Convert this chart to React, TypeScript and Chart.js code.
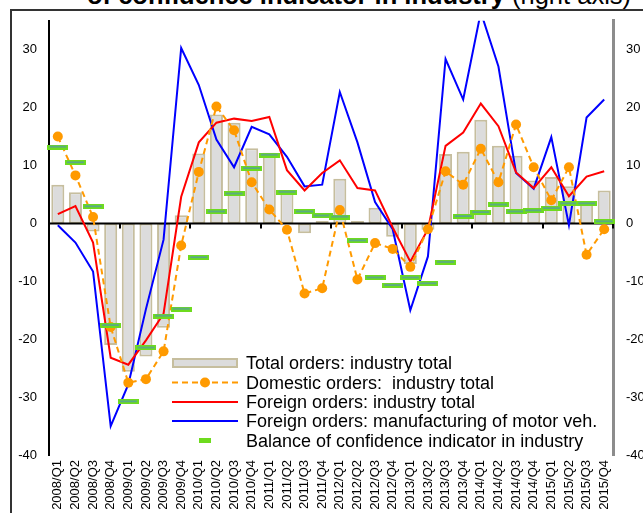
import React, { useEffect, useRef } from "react";
import { Chart, registerables } from "chart.js";

Chart.register(...registerables);

const categories = [
  "2008/Q1", "2008/Q2", "2008/Q3", "2008/Q4",
  "2009/Q1", "2009/Q2", "2009/Q3", "2009/Q4",
  "2010/Q1", "2010/Q2", "2010/Q3", "2010/Q4",
  "2011/Q1", "2011/Q2", "2011/Q3", "2011/Q4",
  "2012/Q1", "2012/Q2", "2012/Q3", "2012/Q4",
  "2013/Q1", "2013/Q2", "2013/Q3", "2013/Q4",
  "2014/Q1", "2014/Q2", "2014/Q3", "2014/Q4",
  "2015/Q1", "2015/Q2", "2015/Q3", "2015/Q4",
];

const totalOrders = [
  6.7, 5.4, -1.4, -21.0, -25.6, -23.0, -18.0, 1.4,
  12.1, 18.8, 17.4, 13.0, 12.2, 5.3, -1.7, 0.4,
  7.7, 0.4, 2.7, -2.3, -7.0, -1.1, 12.0, 12.4,
  17.9, 13.4, 11.7, 7.4, 8.0, 6.4, 3.5, 5.7,
];

const domesticOrders = [
  15.0, 8.3, 1.1, -17.9, -27.5, -26.9, -22.1, -3.8,
  8.9, 20.2, 16.1, 7.1, 2.4, -1.1, -12.1, -11.2,
  2.3, -9.7, -3.4, -4.4, -7.5, -1.0, 9.0, 6.7,
  12.9, 7.1, 17.1, 9.7, 4.0, 9.7, -5.4, -1.0,
];

const foreignOrders = [
  1.6, 3.0, -3.3, -23.2, -24.4, -20.2, -15.6, 4.6,
  14.0, 17.4, 18.1, 17.7, 18.4, 9.2, 5.7, 8.7,
  10.9, 6.1, 5.7, -0.7, -6.6, -1.0, 13.4, 15.7,
  20.7, 16.8, 8.8, 6.1, 9.7, 4.7, 8.1, 9.0,
];

const foreignMotor = [
  -0.3, -3.3, -8.3, -35.0, -27.8, -14.8, -2.8, 30.3,
  23.9, 14.5, 9.7, 16.7, 15.4, 11.5, 6.4, 6.7,
  22.7, 14.0, 3.7, -1.0, -15.0, -5.7, 28.4, 21.4,
  36.5, 27.1, 8.7, 6.0, 14.9, -0.3, 18.3, 21.4,
];

const confidenceBalance = [
  13.2, 10.5, 2.9, -17.6, -30.8, -21.5, -16.0, -14.8,
  -5.9, 2.0, 5.1, 9.5, 11.8, 5.4, 2.0, 1.3,
  1.1, -3.0, -9.4, -10.7, -9.4, -10.4, -6.7, 1.2,
  1.9, 3.2, 2.0, 2.2, 2.6, 3.4, 3.4, 0.3,
];

const yTickValues = [-40, -30, -20, -10, 0, 10, 20, 30];
const yMin = -40;
const yMax = 35;
const quartersPerYear = 4;

const seriesLabels = [
  "Total orders: industry total",
  "Domestic orders:  industry total",
  "Foreign orders: industry total",
  "Foreign orders: manufacturing of motor veh.",
  "Balance of confidence indicator in industry",
];

const FONT = "'Liberation Sans', Arial, Helvetica, sans-serif";
const GREEN = "#6EDB1E";
const GREEN_LINE = "#4F8FC0";
const ORANGE = "#FF9A00";
const BAR_FILL = "#DCDCDC";
const BAR_BORDER = "#C6BE9E";

function makeMarker(w: number, h: number) {
  const c = document.createElement("canvas");
  c.width = w;
  c.height = h;
  const g = c.getContext("2d")!;
  g.fillStyle = GREEN;
  g.fillRect(0, 0, w, h);
  g.fillStyle = GREEN_LINE;
  g.fillRect(2, Math.floor(h / 2) - 0.5, w - 4, 1.2);
  return c;
}

const axisPlugin = {
  id: "zeroAxis",
  afterDatasetDraw(chart: any, args: any) {
    if (args.index !== 0) return;
    const { ctx, chartArea } = chart;
    const xs = chart.scales.x;
    const ys = chart.scales.y;
    const y0 = ys.getPixelForValue(0);
    ctx.save();
    ctx.strokeStyle = "#000";
    ctx.lineWidth = 2;
    ctx.beginPath();
    ctx.moveTo(chartArea.left, y0);
    ctx.lineTo(chartArea.right, y0);
    ctx.stroke();
    const n = categories.length;
    const step = (xs.right - xs.left) / n;
    for (let k = quartersPerYear; k <= n; k += quartersPerYear) {
      const x = Math.round(xs.left + k * step);
      ctx.beginPath();
      ctx.moveTo(x, y0);
      ctx.lineTo(x, y0 + 5);
      ctx.stroke();
    }
    ctx.restore();
  },
};

function ChartCanvas() {
  const ref = useRef<HTMLCanvasElement | null>(null);
  useEffect(() => {
    if (!ref.current) return;
    const marker = makeMarker(21, 5);
    const tickFont = { family: FONT, size: 13 };
    const chart = new Chart(ref.current, {
      data: {
        labels: categories,
        datasets: [
          {
            type: "bar",
            label: seriesLabels[0],
            data: totalOrders,
            backgroundColor: BAR_FILL,
            borderColor: BAR_BORDER,
            borderWidth: 2,
            borderSkipped: false,
            barPercentage: 0.74,
            categoryPercentage: 1,
            yAxisID: "y",
            order: 5,
          },
          {
            type: "line",
            label: seriesLabels[1],
            data: domesticOrders,
            borderColor: ORANGE,
            borderWidth: 2,
            borderDash: [6, 4],
            pointRadius: 5,
            pointBackgroundColor: ORANGE,
            pointBorderColor: ORANGE,
            pointBorderWidth: 0,
            tension: 0,
            yAxisID: "y",
            order: 2,
          },
          {
            type: "line",
            label: seriesLabels[2],
            data: foreignOrders,
            borderColor: "#FF0000",
            borderWidth: 2,
            pointRadius: 0,
            tension: 0,
            yAxisID: "y",
            order: 3,
          },
          {
            type: "line",
            label: seriesLabels[3],
            data: foreignMotor,
            borderColor: "#0000FF",
            borderWidth: 2,
            pointRadius: 0,
            tension: 0,
            yAxisID: "y",
            order: 4,
          },
          {
            type: "line",
            label: seriesLabels[4],
            data: confidenceBalance,
            showLine: false,
            pointStyle: marker,
            pointRadius: 3,
            yAxisID: "y1",
            order: 1,
          },
        ],
      } as any,
      options: {
        animation: false,
        responsive: false,
        maintainAspectRatio: false,
        layout: { padding: { top: 15, left: 0, right: 0, bottom: 0 } },
        plugins: {
          legend: { display: false },
          tooltip: { enabled: false },
          title: { display: false },
        },
        scales: {
          x: {
            grid: { display: false, drawTicks: false },
            border: { display: false },
            ticks: {
              autoSkip: false,
              maxRotation: 90,
              minRotation: 90,
              padding: 5,
              color: "#000",
              font: tickFont,
            },
            afterFit: (s: any) => {
              s.height = 58;
            },
          },
          y: {
            position: "left",
            min: yMin,
            max: yMax,
            grid: { display: false, drawTicks: false },
            border: { display: true, color: "#000", width: 2 },
            ticks: { padding: 12, color: "#000", font: tickFont },
            afterBuildTicks: (s: any) => {
              s.ticks = yTickValues.map((v) => ({ value: v }));
            },
            afterFit: (s: any) => {
              s.width = 49;
            },
          },
          y1: {
            position: "right",
            min: yMin,
            max: yMax,
            grid: { display: false, drawTicks: false },
            border: { display: true, color: "#8C8C8C", width: 3 },
            ticks: { padding: 13, color: "#000", font: tickFont },
            afterBuildTicks: (s: any) => {
              s.ticks = yTickValues.map((v) => ({ value: v }));
            },
            afterFit: (s: any) => {
              s.width = 30;
            },
          },
        },
      } as any,
      plugins: [axisPlugin],
    });
    return () => chart.destroy();
  }, []);
  return (
    <canvas
      ref={ref}
      width={643}
      height={513}
      style={{ position: "absolute", left: 0, top: 0, width: 643, height: 513, display: "block" }}
    />
  );
}

function Legend() {
  const rowY = [363, 382.5, 402, 421, 440.5];
  const x0 = 172;
  const x1 = 238;
  const cx = 205;
  return (
    <>
      <svg
        width={643}
        height={513}
        style={{ position: "absolute", left: 0, top: 0, pointerEvents: "none" }}
      >
        <rect x={x0 + 1} y={rowY[0] - 4} width={x1 - x0 - 2} height={8} fill={BAR_FILL} stroke={BAR_BORDER} strokeWidth={2} />
        <line x1={x0} y1={rowY[1]} x2={x1} y2={rowY[1]} stroke={ORANGE} strokeWidth={2} strokeDasharray="6 4" />
        <circle cx={cx} cy={rowY[1]} r={5} fill={ORANGE} />
        <line x1={x0} y1={rowY[2]} x2={x1} y2={rowY[2]} stroke="#FF0000" strokeWidth={2} />
        <line x1={x0} y1={rowY[3]} x2={x1} y2={rowY[3]} stroke="#0000FF" strokeWidth={2} />
        <rect x={cx - 6} y={rowY[4] - 2.5} width={12} height={5} fill={GREEN} />
      </svg>
      {seriesLabels.map((t, i) => (
        <div
          key={i}
          style={{
            position: "absolute",
            left: 246,
            top: rowY[i] - 10,
            height: 20,
            lineHeight: "20px",
            fontFamily: FONT,
            fontSize: 18,
            color: "#000",
            whiteSpace: "pre",
          }}
        >
          {t}
        </div>
      ))}
    </>
  );
}

export default function App() {
  return (
    <div
      style={{
        position: "fixed",
        left: 0,
        top: 0,
        width: 643,
        height: 513,
        overflow: "hidden",
        background: "#fff",
      }}
    >
      <div
        style={{
          position: "absolute",
          left: 87,
          top: -20,
          fontFamily: FONT,
          fontSize: 25.5,
          lineHeight: "30px",
          whiteSpace: "nowrap",
          color: "#000",
        }}
      >
        <b>of confidence indicator in industry</b> (right axis)
      </div>
      <div
        style={{
          position: "absolute",
          left: 10,
          top: 9,
          width: 900,
          height: 900,
          borderTop: "2px solid #333",
          borderLeft: "2px solid #333",
        }}
      />
      <ChartCanvas />
      <Legend />
    </div>
  );
}
